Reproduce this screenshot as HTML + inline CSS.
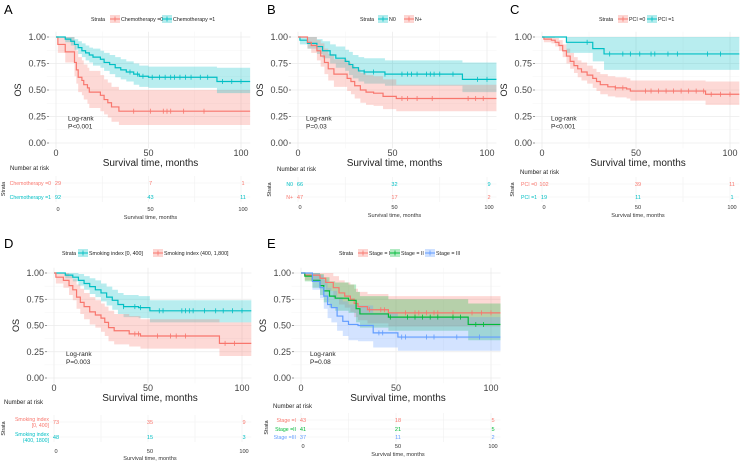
<!DOCTYPE html>
<html><head><meta charset="utf-8"><style>
body{margin:0;background:#fff;}
svg{display:block;font-family:"Liberation Sans",sans-serif;}
</style></head><body>
<svg id="fig" width="744" height="463" viewBox="0 0 744 463"></svg>
<script>
// ---------- data ----------
const A_chemo0_t=[0,1,5,10,11,12,14,15,17,18,24,26,28,30,34];
const A_chemo0_s=[1,0.93,0.86,0.76,0.69,0.62,0.59,0.55,0.52,0.48,0.45,0.41,0.38,0.34,0.30];
const A_chemo0_lo=[1,0.85,0.76,0.63,0.56,0.48,0.45,0.41,0.37,0.33,0.30,0.27,0.24,0.20,0.17];
const A_chemo0_hi=[1,1,1,0.93,0.87,0.81,0.78,0.74,0.71,0.68,0.64,0.60,0.57,0.53,0.50];
const A_chemo0_c=[42,51,58,60,62,69,80];
const A_chemo1_t=[0,5,8,10,12,14,16,18,20,24,26,29,32,35,38,42,45,50,87];
const A_chemo1_s=[1,0.98,0.96,0.93,0.90,0.87,0.85,0.83,0.81,0.79,0.76,0.74,0.71,0.69,0.67,0.65,0.63,0.62,0.58];
const A_chemo1_lo=[1,0.95,0.92,0.88,0.84,0.81,0.78,0.76,0.73,0.71,0.68,0.65,0.62,0.60,0.58,0.55,0.53,0.52,0.47];
const A_chemo1_hi=[1,1,1,0.98,0.96,0.94,0.92,0.90,0.89,0.87,0.85,0.83,0.81,0.79,0.77,0.75,0.73,0.72,0.71];
const A_chemo1_c=[40,44,47,52,56,59,62,64,67,70,73,78,82,90,95,100];
const B_n0_t=[0,1,5,10,13,17,20,25,27,29,32,35,46,87];
const B_n0_s=[1,0.97,0.94,0.91,0.87,0.83,0.80,0.77,0.74,0.71,0.68,0.67,0.65,0.60];
const B_n0_lo=[1,0.93,0.89,0.84,0.80,0.75,0.71,0.68,0.64,0.61,0.58,0.56,0.54,0.48];
const B_n0_hi=[1,1,1,0.98,0.96,0.93,0.91,0.88,0.86,0.83,0.81,0.80,0.78,0.76];
const B_n0_c=[35,40,46,55,58,60,63,68,70,72,75,82,95,100];
const B_np_t=[0,5,7,10,12,14,16,19,26,28,30,33,36,40,45,52];
const B_np_s=[1,0.95,0.92,0.87,0.82,0.76,0.70,0.65,0.61,0.58,0.54,0.50,0.48,0.47,0.44,0.42];
const B_np_lo=[1,0.89,0.85,0.78,0.72,0.65,0.59,0.53,0.49,0.46,0.42,0.38,0.36,0.35,0.32,0.30];
const B_np_hi=[1,1,1,0.97,0.94,0.89,0.84,0.79,0.76,0.73,0.70,0.66,0.64,0.63,0.60,0.55];
const B_np_c=[55,58,63,71,90,94,98];
const C_p0_t=[0,1,5,7,9,11,13,15,17,19,21,24,27,29,31,35,39,45,47,87];
const C_p0_s=[1,0.98,0.97,0.95,0.92,0.87,0.82,0.77,0.73,0.70,0.67,0.64,0.61,0.58,0.55,0.53,0.52,0.51,0.49,0.46];
const C_p0_lo=[1,0.95,0.94,0.91,0.87,0.81,0.75,0.70,0.66,0.62,0.59,0.56,0.52,0.49,0.46,0.44,0.43,0.42,0.40,0.36];
const C_p0_hi=[1,1,1,0.99,0.97,0.93,0.89,0.85,0.81,0.78,0.76,0.73,0.70,0.67,0.65,0.63,0.62,0.61,0.59,0.58];
const C_p0_c=[39,43,55,58,62,66,70,74,78,82,86,90,95,100];
const C_p1_t=[0,13,27,33];
const C_p1_s=[1,0.95,0.89,0.84];
const C_p1_lo=[1,0.85,0.77,0.69];
const C_p1_hi=[1,1,1,1];
const C_p1_c=[24,36,43,47,52,58,60,67,72,88,95];
const D_s0_t=[0,6,10,13,16,19,22,25,28,31,34,37,45,51];
const D_s0_s=[1,0.98,0.96,0.93,0.90,0.87,0.84,0.81,0.77,0.74,0.70,0.68,0.67,0.64];
const D_s0_lo=[1,0.95,0.92,0.88,0.84,0.80,0.77,0.73,0.69,0.65,0.61,0.58,0.57,0.53];
const D_s0_hi=[1,1,1,0.99,0.97,0.95,0.93,0.90,0.87,0.84,0.81,0.79,0.78,0.74];
const D_s0_c=[37,43,46,56,58,68,70,72,74,80,86,90,95,100];
const D_s1_t=[0,1,5,8,10,12,14,16,19,22,25,27,29,32,40,46,88];
const D_s1_s=[1,0.96,0.93,0.88,0.84,0.77,0.72,0.68,0.63,0.60,0.57,0.53,0.48,0.45,0.42,0.40,0.33];
const D_s1_lo=[1,0.90,0.86,0.79,0.74,0.66,0.61,0.56,0.51,0.48,0.44,0.40,0.35,0.32,0.30,0.28,0.21];
const D_s1_hi=[1,1,1,0.97,0.94,0.89,0.85,0.81,0.77,0.74,0.71,0.68,0.64,0.61,0.59,0.56,0.53];
const D_s1_c=[43,45,55,62,65,70,91,96];
const E_s1_t=[0,2,10,13,17,20,23,26,28,30,35,46];
const E_s1_s=[1,0.98,0.95,0.91,0.86,0.81,0.78,0.75,0.71,0.68,0.65,0.62];
const E_s1_lo=[1,0.93,0.88,0.83,0.76,0.70,0.67,0.63,0.58,0.55,0.52,0.49];
const E_s1_hi=[1,1,1,1,0.97,0.93,0.91,0.89,0.85,0.82,0.80,0.78];
const E_s1_c=[36,42,44,55,60,62,66,70,72,80,90,95,100];
const E_s2_t=[0,2,6,10,12,15,18,25,29,31,46,88];
const E_s2_s=[1,0.97,0.93,0.88,0.83,0.78,0.76,0.74,0.66,0.61,0.58,0.51];
const E_s2_lo=[1,0.92,0.86,0.79,0.72,0.67,0.64,0.62,0.53,0.48,0.45,0.36];
const E_s2_hi=[1,1,1,0.99,0.96,0.92,0.91,0.89,0.82,0.78,0.75,0.71];
const E_s2_c=[47,56,60,64,68,72,80,84,92,96];
const E_s3_t=[0,6,10,12,14,16,19,22,25,30,38,51];
const E_s3_s=[1,0.92,0.86,0.78,0.70,0.67,0.59,0.54,0.51,0.50,0.43,0.39];
const E_s3_lo=[1,0.84,0.76,0.66,0.57,0.53,0.45,0.40,0.36,0.35,0.29,0.26];
const E_s3_hi=[1,1,0.98,0.93,0.86,0.83,0.77,0.73,0.70,0.69,0.62,0.58];
const E_s3_c=[41,43,53,55,66,70,82,94];
const A_risk0=[29,7,1], A_risk1=[92,43,11];
const B_risk0=[66,32,9], B_risk1=[47,17,2];
const C_risk0=[102,39,11], C_risk1=[19,11,1];
const D_risk0=[73,35,9], D_risk1=[48,15,3];
const E_risk0=[43,18,5], E_risk1=[41,21,5], E_risk2=[37,11,2];
const yTicks=[0,0.25,0.5,0.75,1];
const yTickLabels=["0.00","0.25","0.50","0.75","1.00"];
const xTicks=[0,50,100];

// ---------- drawing ----------
const NS="http://www.w3.org/2000/svg";
const svg=document.getElementById('fig');
function el(tag,attrs,parent,text){const e=document.createElementNS(NS,tag);for(const k in attrs)e.setAttribute(k,attrs[k]);if(text!==undefined)e.textContent=text;(parent||svg).appendChild(e);return e;}
const RED="#F8766D",TEAL="#00BFC4",GREEN="#00BA38",BLUE="#619CFF";
const TMAX=105;

function panel(cfg){
  const g=el('g',{});
  
  
  const sx=(cfg.x100-cfg.x0)/100;
  const X=t=>cfg.x0+t*sx, Y=v=>cfg.y0+(cfg.y1-cfg.y0)*v;
  const right=Math.min(X(TMAX),744);
  const left=X(-5);
  [0,0.125,0.25,0.375,0.5,0.625,0.75,0.875,1].forEach(v=>{el('line',{x1:left,x2:right,y1:Y(v),y2:Y(v),stroke:v%0.25===0?"#ebebeb":"#f4f4f4","stroke-width":v%0.25===0?0.8:0.5},g);});
  [0,25,50,75,100].forEach(t=>{el('line',{x1:X(t),x2:X(t),y1:Y(1.05),y2:Y(-0.05),stroke:t%50===0?"#ebebeb":"#f4f4f4","stroke-width":t%50===0?0.8:0.5},g);});
  const L=el('text',{x:cfg.lx,y:cfg.ly,"font-size":13,fill:"#000"},g,cfg.letter);
  
  
  yTicks.forEach((v,i)=>{
    el('line',{x1:X(0)-9,x2:X(0)-7,y1:Y(v),y2:Y(v),stroke:"#555","stroke-width":0.6},g);
    const t=el('text',{x:X(0)-10,y:Y(v)+3,"font-size":9,"text-anchor":"end",fill:"#444"},g,yTickLabels[i]);
    
    
  });
  xTicks.forEach(v=>{
    const t=el('text',{x:X(v),y:Y(0)+13,"font-size":9,"text-anchor":"middle",fill:"#444"},g,String(v));
    
    
  });
  const yt=el('text',{x:0,y:0,"font-size":9,"text-anchor":"middle",fill:"#222",transform:`translate(${X(0)-35},${Y(0.5)}) rotate(-90)`},g,"OS");
  
  
  const xt=el('text',{x:X(50)+2,y:Y(0)+23,"font-size":10,"text-anchor":"middle",fill:"#222"},g,"Survival time, months");
  
  
  const clipId='clip'+cfg.letter;
  const cp=el('clipPath',{id:clipId},g);el('rect',{x:left,y:0,width:right-left,height:463},cp);
  cfg.series.forEach(s=>{
    let up=`M${X(s.t[0])},${Y(s.hi[0])}`;
    for(let i=1;i<s.t.length;i++)up+=`H${X(s.t[i])}V${Y(s.hi[i])}`;
    up+=`H${X(TMAX)}`;
    let lo=`V${Y(s.lo[s.lo.length-1])}`;
    for(let i=s.t.length-1;i>0;i--)lo+=`H${X(s.t[i])}V${Y(s.lo[i-1])}`;
    lo+=`H${X(s.t[0])}Z`;
    const p=el('path',{d:up+lo,fill:s.col,"fill-opacity":0.28,stroke:"none","clip-path":`url(#${clipId})`},g);
    
    
  });
  cfg.series.forEach(s=>{
    let d=`M${X(s.t[0])},${Y(s.s[0])}`;
    for(let i=1;i<s.t.length;i++)d+=`H${X(s.t[i])}V${Y(s.s[i])}`;
    d+=`H${X(TMAX)}`;
    const p=el('path',{d,fill:"none",stroke:s.col,"stroke-width":1.2,"clip-path":`url(#${clipId})`},g);
    
    
    s.c.forEach(ct=>{
      let v=s.s[0];for(let i=0;i<s.t.length;i++)if(s.t[i]<=ct)v=s.s[i];
      const m=el('line',{x1:X(ct),x2:X(ct),y1:Y(v)-2.5,y2:Y(v)+2.5,stroke:s.col,"stroke-width":0.8},g);
      
      
    });
  });
  el('text',{x:cfg.lrx,y:Y(0.25)+4,"font-size":6.5,fill:"#222"},g,"Log-rank");
  el('text',{x:cfg.lrx,y:Y(0.25)+12,"font-size":6.5,fill:"#222"},g,cfg.p);
  const lg=el('g',{},g);
  
  
  el('text',{x:cfg.legX,y:cfg.legY+2,"font-size":5.3,fill:"#222"},lg,"Strata");
  cfg.legend.forEach(le=>{
    const k=el('g',{},lg);
    
    
    el('rect',{x:le.x,y:cfg.legY-4,width:10,height:8,fill:le.col,"fill-opacity":0.3},k);
    el('line',{x1:le.x,x2:le.x+10,y1:cfg.legY,y2:cfg.legY,stroke:le.col,"stroke-width":1},k);
    el('line',{x1:le.x+5,x2:le.x+5,y1:cfg.legY-2.5,y2:cfg.legY+2.5,stroke:le.col,"stroke-width":0.8},k);
    el('text',{x:le.x+11,y:cfg.legY+2,"font-size":5.3,fill:"#222"},k,le.label);
  });
  const rt=el('g',{},g);
  
  
  el('text',{x:cfg.narX,y:cfg.narY,"font-size":6,fill:"#222"},rt,"Number at risk");
  const top=cfg.rows[0].y-7,bot=cfg.rows[cfg.rows.length-1].y+5;
  [0,25,50,75,100].forEach(t=>el('line',{x1:X(t),x2:X(t),y1:top,y2:bot,stroke:"#f0f0f0","stroke-width":0.6},rt));
  cfg.rows.forEach(r=>{
    el('line',{x1:left,x2:right,y1:r.y,y2:r.y,stroke:"#f0f0f0","stroke-width":0.6},rt);
    r.label.forEach((ln,j)=>el('text',{x:X(0)-5,y:r.y+2+(j-(r.label.length-1)/2)*6,"font-size":5.2,"text-anchor":"end",fill:r.col},rt,ln));
    r.vals.forEach((v,i)=>{
      const t=el('text',{x:X(xTicks[i])+2,y:r.y+2,"font-size":5.6,"text-anchor":"middle",fill:r.col},rt,String(v));
      
      
    });
  });
  el('text',{x:0,y:0,"font-size":5.3,"text-anchor":"middle",fill:"#222",transform:`translate(${cfg.strX},${(top+bot)/2}) rotate(-90)`},rt,"Strata");
  xTicks.forEach(v=>el('text',{x:X(v)+2,y:cfg.rtTickY,"font-size":5.6,"text-anchor":"middle",fill:"#333"},rt,String(v)));
  el('text',{x:X(50)+2,y:cfg.rtTickY+(cfg.titleOff||8),"font-size":5.6,"text-anchor":"middle",fill:"#333"},rt,"Survival time, months");
}
const S=(name,col,t,s,lo,hi,c)=>({name,col,t,s,lo,hi,c});

panel({letter:"A",lx:4,ly:14,x0:56,x100:241,y1:37,y0:143,lrx:68,p:"P<0.001",
  legX:91,legY:19,legend:[{x:110,col:RED,label:"Chemotherapy =0"},{x:162,col:TEAL,label:"Chemotherapy =1"}],
  series:[S("chemo0",RED,A_chemo0_t,A_chemo0_s,A_chemo0_lo,A_chemo0_hi,A_chemo0_c),S("chemo1",TEAL,A_chemo1_t,A_chemo1_s,A_chemo1_lo,A_chemo1_hi,A_chemo1_c)],
  narX:10,narY:170,strX:5,rtTickY:211,
  rows:[{y:183,col:RED,label:["Chemotherapy =0"],vals:A_risk0},{y:197,col:TEAL,label:["Chemotherapy =1"],vals:A_risk1}]});
panel({letter:"B",lx:267,ly:14,x0:298,x100:487,y1:37,y0:143,lrx:306,p:"P=0.03",
  legX:360,legY:19,legend:[{x:378,col:TEAL,label:"N0"},{x:404,col:RED,label:"N+"}],
  series:[S("n0",TEAL,B_n0_t,B_n0_s,B_n0_lo,B_n0_hi,B_n0_c),S("nplus",RED,B_np_t,B_np_s,B_np_lo,B_np_hi,B_np_c)],
  narX:277,narY:171,strX:271,rtTickY:209,
  rows:[{y:184,col:TEAL,label:["N0"],vals:B_risk0},{y:197,col:RED,label:["N+"],vals:B_risk1}]});
panel({letter:"C",lx:510,ly:14,x0:542,x100:730,y1:37,y0:143,lrx:551,p:"P<0.001",
  legX:599,legY:19,legend:[{x:618,col:RED,label:"PCI =0"},{x:647,col:TEAL,label:"PCI =1"}],
  series:[S("pci0",RED,C_p0_t,C_p0_s,C_p0_lo,C_p0_hi,C_p0_c),S("pci1",TEAL,C_p1_t,C_p1_s,C_p1_lo,C_p1_hi,C_p1_c)],
  narX:520,narY:174,strX:514,rtTickY:209,
  rows:[{y:184,col:RED,label:["PCI =0"],vals:C_risk0},{y:197,col:TEAL,label:["PCI =1"],vals:C_risk1}]});
panel({letter:"D",lx:4,ly:248,x0:54,x100:242,y1:273,y0:378,lrx:66,p:"P=0.003",
  legX:62,legY:253,legend:[{x:78,col:TEAL,label:"Smoking index [0, 400]"},{x:153,col:RED,label:"Smoking index (400, 1,800]"}],
  series:[S("smoking-low",TEAL,D_s0_t,D_s0_s,D_s0_lo,D_s0_hi,D_s0_c),S("smoking-high",RED,D_s1_t,D_s1_s,D_s1_lo,D_s1_hi,D_s1_c)],
  narX:4,narY:404,strX:5,rtTickY:453,titleOff:7,
  rows:[{y:422,col:RED,label:["Smoking index","[0, 400]"],vals:D_risk0},{y:437,col:TEAL,label:["Smoking index","(400, 1800]"],vals:D_risk1}]});
panel({letter:"E",lx:267,ly:248,x0:301,x100:491,y1:273,y0:378,lrx:310,p:"P=0.08",
  legX:339,legY:253,legend:[{x:358,col:RED,label:"Stage = I"},{x:390,col:GREEN,label:"Stage = II"},{x:425,col:BLUE,label:"Stage = III"}],
  series:[S("stage1",RED,E_s1_t,E_s1_s,E_s1_lo,E_s1_hi,E_s1_c),S("stage2",GREEN,E_s2_t,E_s2_s,E_s2_lo,E_s2_hi,E_s2_c),S("stage3",BLUE,E_s3_t,E_s3_s,E_s3_lo,E_s3_hi,E_s3_c)],
  narX:273,narY:408,strX:268,rtTickY:448,
  rows:[{y:420,col:RED,label:["Stage =I"],vals:E_risk0},{y:429,col:GREEN,label:["Stage =II"],vals:E_risk1},{y:437,col:BLUE,label:["Stage =III"],vals:E_risk2}]});
</script>
</body></html>
